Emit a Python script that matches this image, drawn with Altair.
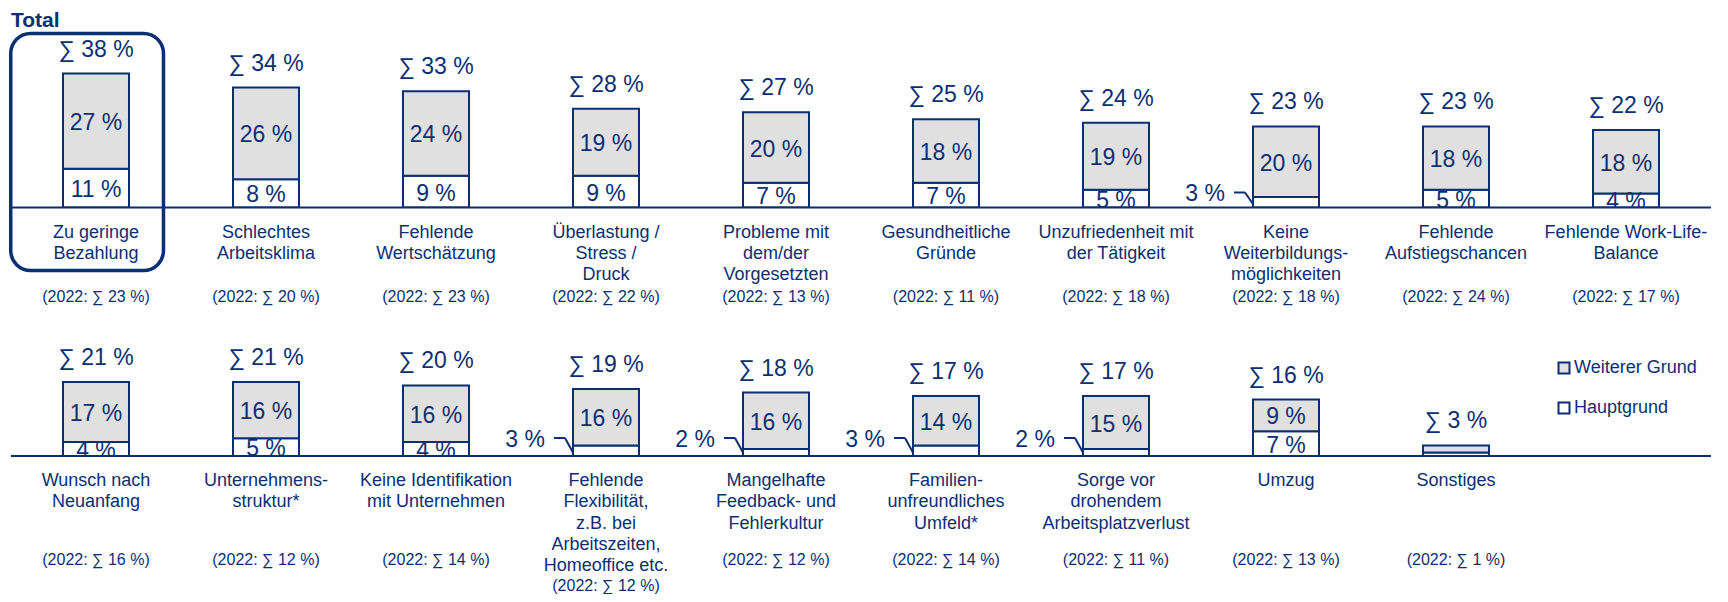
import altair as alt
import pandas as pd

# ---------------- data ----------------
title_text = "Total"
categories = [
    "Zu geringe\nBezahlung", "Schlechtes\nArbeitsklima", "Fehlende\nWertschätzung",
    "Überlastung /\nStress /\nDruck", "Probleme mit\ndem/der\nVorgesetzten",
    "Gesundheitliche\nGründe", "Unzufriedenheit mit\nder Tätigkeit",
    "Keine\nWeiterbildungs-\nmöglichkeiten", "Fehlende\nAufstiegschancen",
    "Fehlende Work-Life-\nBalance",
    "Wunsch nach\nNeuanfang", "Unternehmens-\nstruktur*", "Keine Identifikation\nmit Unternehmen",
    "Fehlende\nFlexibilität,\nz.B. bei\nArbeitszeiten,\nHomeoffice etc.",
    "Mangelhafte\nFeedback- und\nFehlerkultur", "Familien-\nunfreundliches\nUmfeld*",
    "Sorge vor\ndrohendem\nArbeitsplatzverlust", "Umzug", "Sonstiges",
]
hauptgrund = [11, 8, 9, 9, 7, 7, 5, 3, 5, 4, 4, 5, 4, 3, 2, 3, 2, 7, 1]
weiterer_grund = [27, 26, 24, 19, 20, 18, 19, 20, 18, 18, 17, 16, 16, 16, 16, 14, 15, 9, 2]
summe = [38, 34, 33, 28, 27, 25, 24, 23, 23, 22, 21, 21, 20, 19, 18, 17, 17, 16, 3]
summe_2022 = [23, 20, 23, 22, 13, 11, 18, 18, 24, 17, 16, 12, 14, 12, 12, 14, 11, 13, 1]
series = ["Weiterer Grund", "Hauptgrund"]
highlighted = ["Zu geringe\nBezahlung"]

# ---------------- style / layout ----------------
NAVY = "#0a2f73"
GREY = "#e0e0e0"
FONT = "Liberation Sans"
K = 134 / 38          # pixels per percentage point
PER_ROW = 10
STEP = 170.0          # pixels per column
X0, X1 = -0.5176, 9.5
W = 1703
HALF = 33 / STEP

items = pd.DataFrame({"cat": categories, "h": hauptgrund, "w": weiterer_grund,
                      "s": summe, "p": summe_2022})
items["idx"] = range(len(items))
items["row"] = items["idx"] // PER_ROW + 1
items["col"] = items["idx"] % PER_ROW
items["nlines"] = items["cat"].str.count("\n") + 1
items["sum_label"] = "∑ " + items["s"].astype(str) + " %"
items["prev_label"] = "(2022: ∑ " + items["p"].astype(str) + " %)"

segs = []
for _, r in items.iterrows():
    segs.append(dict(row=r.row, col=r.col, series="Hauptgrund", y0=0, y1=r.h, v=r.h, s=r.s))
    segs.append(dict(row=r.row, col=r.col, series="Weiterer Grund", y0=r.h, y1=r.h + r.w, v=r.w, s=r.s))
segs = pd.DataFrame(segs)
segs["x1"] = segs["col"] - HALF
segs["x2"] = segs["col"] + HALF
segs["mid"] = (segs["y0"] + segs["y1"]) / 2
segs["label"] = segs["v"].astype(str) + " %"

ROWS = {
    1: dict(height=280, above=176.5, lead=15, prev=89.5),
    2: dict(height=283, above=145.0, lead=18, prev=104.0),
}


def row_chart(r):
    cfg = ROWS[r]
    hi = cfg["above"] / K
    lo = -(cfg["height"] - cfg["above"]) / K
    xs = alt.Scale(domain=[X0, X1], nice=False, zero=False)
    ys = alt.Scale(domain=[lo, hi], nice=False, zero=False)

    it = items[items["row"] == r].copy()
    it["ytop"] = it["s"]
    it["y22"] = -(cfg["prev"] + (it["nlines"] - 4).clip(lower=0) * 26) / K
    it["mx1"] = it["col"] - 0.25
    it["mx2"] = it["col"] + 0.25
    sg = segs[segs["row"] == r]

    X = lambda f: alt.X(f, scale=xs, axis=None)
    Y = lambda f: alt.Y(f, scale=ys, axis=None)

    layers = []

    box = it[it["cat"].isin(highlighted)].copy()
    if len(box):
        box["bx1"] = box["col"] - 0.5015
        box["bx2"] = box["col"] + 0.397
        box["by1"] = 49.35
        box["by2"] = -17.87
        layers.append(alt.Chart(box).mark_rect(
            fill="transparent", stroke=NAVY, strokeWidth=3.5, cornerRadius=20
        ).encode(x=X("bx1:Q"), x2="bx2:Q", y=Y("by1:Q"), y2="by2:Q"))

    if r == 2:
        legend = alt.Legend(orient="none", legendX=1547, legendY=48, title=None,
                            symbolType="square", symbolSize=121, symbolStrokeColor=NAVY,
                            symbolStrokeWidth=2, labelFont=FONT, labelFontSize=18,
                            labelColor=NAVY, rowPadding=20, labelOffset=1,
                            direction="vertical")
    else:
        legend = None
    layers.append(alt.Chart(sg).mark_rect(stroke=NAVY, strokeWidth=2).encode(
        x=X("x1:Q"), x2="x2:Q", y=Y("y0:Q"), y2="y1:Q",
        fill=alt.Fill("series:N", scale=alt.Scale(domain=series, range=[GREY, "white"]),
                      legend=legend),
    ))

    layers.append(alt.Chart(it).mark_text(
        font=FONT, fontSize=23, color=NAVY, baseline="middle", dy=-24
    ).encode(x=X("col:Q"), y=Y("ytop:Q"), text="sum_label:N"))

    inner = sg[(sg["v"] >= 4) & (sg["s"] > 5)]
    layers.append(alt.Chart(inner).mark_text(
        font=FONT, fontSize=23, color=NAVY, baseline="middle", dy=2
    ).encode(x=X("col:Q"), y=Y("mid:Q"), text="label:N"))

    it["m0"] = 0.0
    it["m1"] = -12 / K
    layers.append(alt.Chart(it).mark_rect(fill="white").encode(
        x=X("mx1:Q"), x2="mx2:Q", y=Y("m0:Q"), y2="m1:Q"))

    layers.append(alt.Chart(it.head(1)).mark_rule(color=NAVY, strokeWidth=2).encode(
        x=alt.X(datum=-0.5, scale=xs, axis=None), x2=alt.X2(datum=9.5),
        y=alt.Y(datum=0, scale=ys, axis=None)))

    lead = it[(it["h"] < 4) & (it["s"] > 5)]
    if len(lead):
        ly = cfg["lead"] / K
        rows = []
        for _, q in lead.iterrows():
            left = q.col - HALF
            rows.append(dict(a=left - 19 / STEP, b=left - 8 / STEP, c=ly, d=ly))
            rows.append(dict(a=left - 8 / STEP, b=left, c=ly, d=1.0))
        ldf = pd.DataFrame(rows)
        layers.append(alt.Chart(ldf).mark_rule(color=NAVY, strokeWidth=2).encode(
            x=X("a:Q"), x2="b:Q", y=Y("c:Q"), y2="d:Q"))
        lt = lead.copy()
        lt["lx"] = lt["col"] - HALF - 28 / STEP
        lt["ly"] = ly
        lt["lab"] = lt["h"].astype(str) + " %"
        layers.append(alt.Chart(lt).mark_text(
            font=FONT, fontSize=23, color=NAVY, baseline="middle", align="right", dy=1.5
        ).encode(x=X("lx:Q"), y=Y("ly:Q"), text="lab:N"))

    layers.append(alt.Chart(it).mark_text(
        font=FONT, fontSize=18, color=NAVY, baseline="alphabetic", lineBreak="\n",
        lineHeight=21.3, dy=30
    ).encode(x=X("col:Q"), y=alt.Y(datum=0, scale=ys, axis=None), text="cat:N"))

    layers.append(alt.Chart(it).mark_text(
        font=FONT, fontSize=16, color=NAVY, baseline="middle"
    ).encode(x=X("col:Q"), y=Y("y22:Q"), text="prev_label:N"))

    return alt.layer(*layers).properties(width=W, height=cfg["height"])


chart = alt.vconcat(
    row_chart(1), row_chart(2), spacing=0,
    title=alt.TitleParams(title_text, anchor="start", fontSize=21, fontWeight="bold",
                          color=NAVY, font=FONT, offset=0, dx=3),
).resolve_scale(x="independent", y="independent", fill="independent").properties(
    padding={"top": 2, "left": 0, "right": 0, "bottom": 0}
).configure_view(stroke=None)

chart.save("out.html", embed_options={"renderer": "svg", "actions": False})
